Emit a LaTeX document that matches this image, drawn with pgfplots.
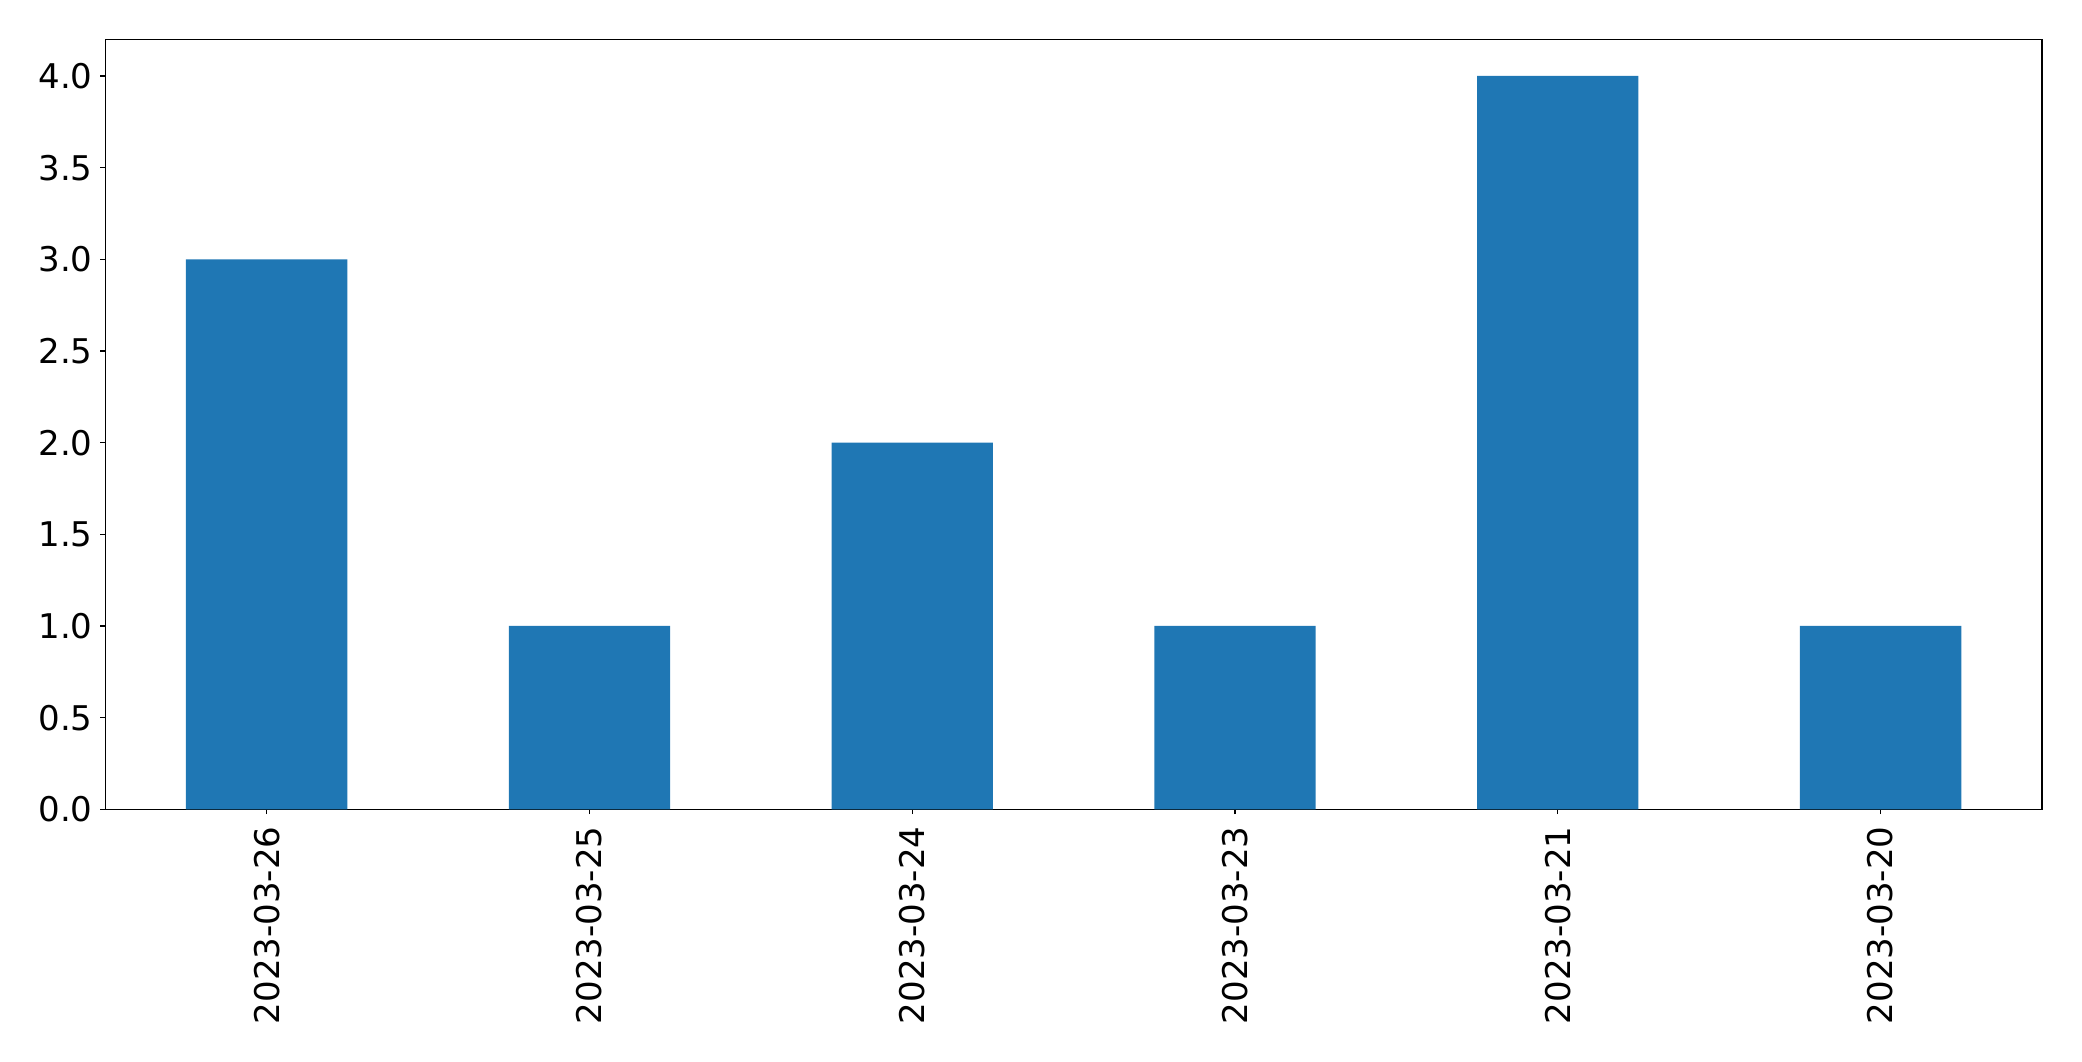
\documentclass[border=0pt]{standalone}
\usepackage{fontspec}
\setmainfont{DejaVu Sans}
\usepackage{pgfplots}
\pgfplotsset{compat=1.18}
\definecolor{tabblue}{HTML}{1F77B4}
\begin{document}
\begin{tikzpicture}
\useasboundingbox (-75.8pt,-181.2pt) rectangle (1394.4pt+28.8pt,554.4pt+28.3pt);
\begin{axis}[
  at={(0,0)}, anchor=south west,
  scale only axis,
  width=1394.4pt, height=554.4pt,
  xmin=-0.5, xmax=5.5, ymin=0, ymax=4.2,
  xtick={0,1,2,3,4,5},
  xticklabels={2023-03-26,2023-03-25,2023-03-24,2023-03-23,2023-03-21,2023-03-20},
  ytick={0,0.5,1,1.5,2,2.5,3,3.5,4},
  yticklabel style={/pgf/number format/fixed, /pgf/number format/fixed zerofill, /pgf/number format/precision=1, inner sep=0pt, xshift=-5.5pt},
  xticklabel style={rotate=90, anchor=east, inner sep=0pt, xshift=-8.6pt},
  ticklabel style={font=\fontsize{24.5}{28}\selectfont},
  /pgf/number format/assume math mode=true,
  tick align=outside, major tick length=3.5pt,
  tick style={line width=0.8pt, black},
  axis line style={line width=0.8pt},
  xtick pos=bottom, ytick pos=left,
]
\addplot[ybar, bar width=0.5, fill=tabblue, draw=none] coordinates {
(0,3) (1,1) (2,2) (3,1) (4,4) (5,1)
};
\end{axis}
\end{tikzpicture}
\end{document}
